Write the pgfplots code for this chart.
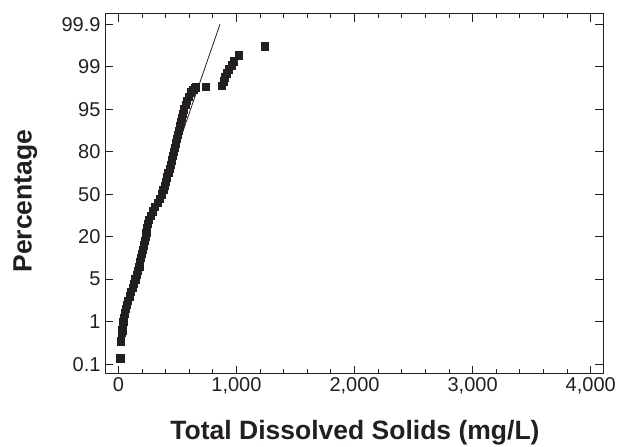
\documentclass[border=0pt]{standalone}
\usepackage{fontspec}
\setmainfont{Liberation Sans}
\usepackage{pgfplots}
\pgfplotsset{compat=1.18}
\definecolor{ink}{HTML}{231F20}
\begin{document}
\begin{tikzpicture}[x=1pt,y=1pt]
\useasboundingbox (0,0) rectangle (624,447);
\begin{axis}[
  at={(105pt,73pt)}, anchor=south west,
  scale only axis, width=498pt, height=360pt,
  xmin=-113, xmax=4104, ymin=-0.23, ymax=8.24,
  axis line style={ink, line width=1.0pt},
  every tick/.style={ink, line width=0.9pt},
  tick align=inside,
  xtick pos=both, ytick pos=both,
  major tick length=8pt, minor tick length=4.5pt,
  xtick={0,1000,2000,3000,4000},
  xticklabels={0,{1,000},{2,000},{3,000},{4,000}},
  minor x tick num=4,
  ytick={0,1,2,3,4,5,6,7,8},
  yticklabels={0.1,1,5,20,50,80,95,99,99.9},
  every tick label/.append style={font=\fontsize{20}{24}\selectfont, text=ink},
  yticklabel style={xshift=-1pt},
  /pgf/number format/assume math mode=true,
  xlabel={Total Dissolved Solids (mg/L)},
  ylabel={Percentage},
  every axis label/.append style={font=\fontsize{26.5}{30}\selectfont\bfseries, text=ink},
  xlabel style={at={(axis description cs:0.502,-0.164)}, anchor=center},
  ylabel style={at={(axis description cs:-0.16,0.48)}, anchor=center},
  clip=false,
]
% fitted line
\addplot[ink, line width=0.8pt] coordinates {(491,5.03) (861,8.0)};
% observations
\addplot[only marks, mark=square*, mark size=3.6pt, ink, mark options={fill=ink, draw=none}] coordinates {
(15,0.141) (23,0.54)
(31.1,0.74) (33.2,0.8) (36.7,0.9) (40.4,1.0) (47.9,1.1) (55.3,1.2)
(63.1,1.3) (72.0,1.4) (80.9,1.5) (93.2,1.6) (106.0,1.7) (118.4,1.8)
(130.4,1.9) (142.5,2.0) (154.2,2.1) (165.8,2.2) (176.9,2.3) (184.1,2.4)
(191.4,2.5) (198.7,2.6) (206.0,2.7) (213.5,2.8) (221.0,2.9) (228.5,3.0)
(235.9,3.1) (242.7,3.2) (249.5,3.3) (259.6,3.4) (272.7,3.5) (290.8,3.6)
(310.9,3.7) (330.4,3.8) (348.1,3.9) (364.5,4.0) (379.3,4.1) (390.0,4.2)
(400.6,4.3) (411.4,4.4) (422.2,4.5) (433.1,4.6) (443.9,4.7) (454.8,4.8)
(462.1,4.9) (469.4,5.0) (476.6,5.1) (483.9,5.2) (492.3,5.3) (500.8,5.4)
(509.3,5.5) (518.2,5.6) (527.2,5.7) (536.1,5.8) (545.0,5.9) (554.8,6.0)
(567.6,6.1) (580.3,6.2) (597.7,6.3) (615.8,6.4) (633.6,6.45) (651.5,6.5)
(658,6.52)
(743,6.526)
(878,6.554) (891,6.66) (903,6.754) (916,6.848) (937,6.942) (958,7.036)
(975,7.13) (1022,7.27) (1242,7.483)
};
\end{axis}
\end{tikzpicture}
\end{document}
